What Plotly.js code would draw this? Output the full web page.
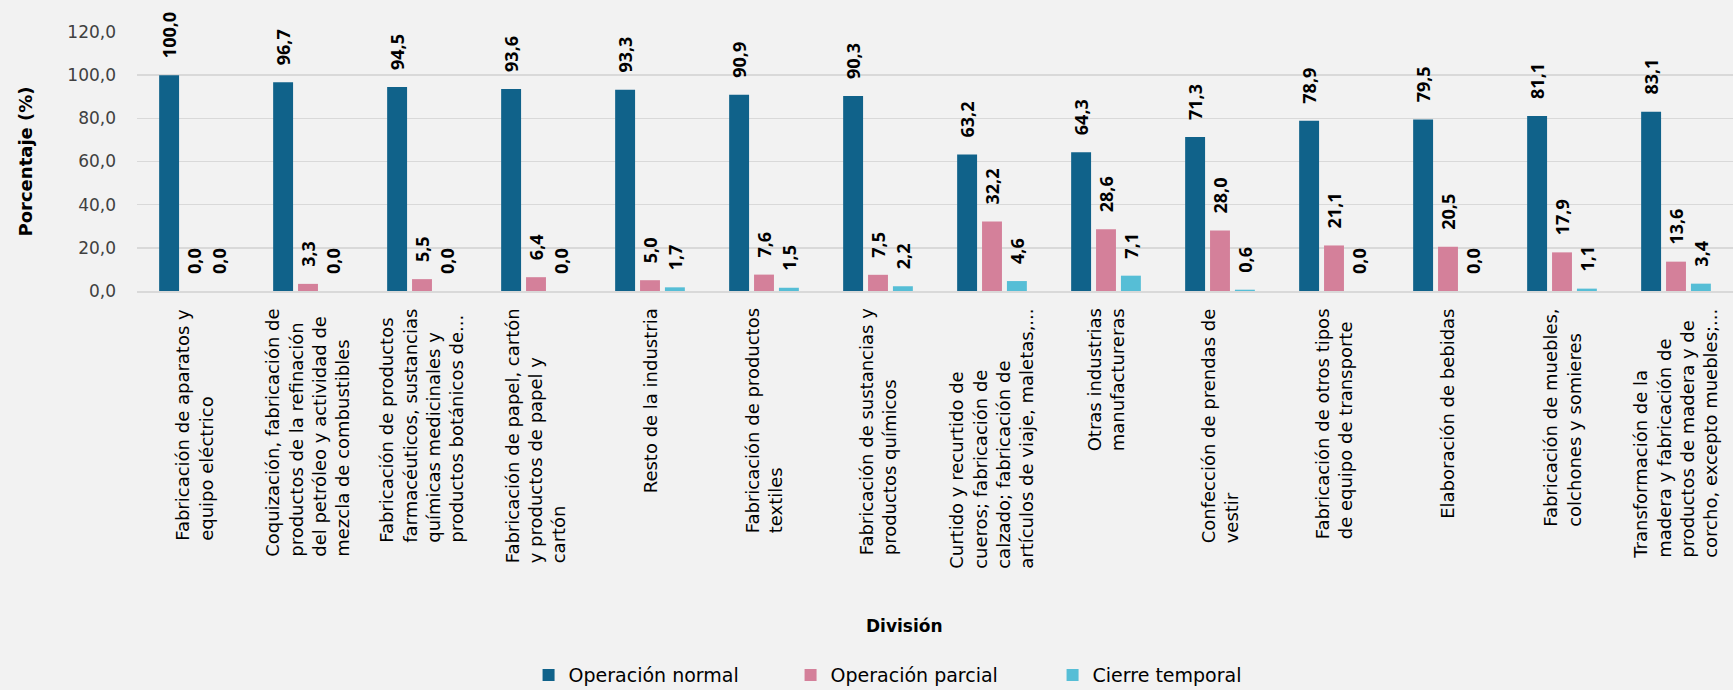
<!DOCTYPE html>
<html><head><meta charset="utf-8">
<script src="https://cdn.plot.ly/plotly-3.0.1.min.js"></script>
<style>html,body{margin:0;padding:0;background:#F2F2F2;}#chart{width:1733px;height:690px;}</style>
</head><body><div id="chart"></div>
<script>
const categories = [
  'Fabricación de aparatos y equipo eléctrico',
  'Coquización, fabricación de productos de la refinación del petróleo y actividad de mezcla de combustibles',
  'Fabricación de productos farmacéuticos, sustancias químicas medicinales y productos botánicos de uso farmacéutico',
  'Fabricación de papel, cartón y productos de papel y cartón',
  'Resto de la industria',
  'Fabricación de productos textiles',
  'Fabricación de sustancias y productos químicos',
  'Curtido y recurtido de cueros; fabricación de calzado; fabricación de artículos de viaje, maletas, bolsos de mano',
  'Otras industrias manufactureras',
  'Confección de prendas de vestir',
  'Fabricación de otros tipos de equipo de transporte',
  'Elaboración de bebidas',
  'Fabricación de muebles, colchones y somieres',
  'Transformación de la madera y fabricación de productos de madera y de corcho, excepto muebles; cestería'
];
const tickLabels = [
  'Fabricación de aparatos y<br>equipo eléctrico',
  'Coquización, fabricación de<br>productos de la refinación<br>del petróleo y actividad de<br>mezcla de combustibles',
  'Fabricación de productos<br>farmacéuticos, sustancias<br>químicas medicinales y<br>productos botánicos de...',
  'Fabricación de papel, cartón<br>y productos de papel y<br>cartón',
  'Resto de la industria',
  'Fabricación de productos<br>textiles',
  'Fabricación de sustancias y<br>productos químicos',
  'Curtido y recurtido de<br>cueros; fabricación de<br>calzado; fabricación de<br>artículos de viaje, maletas,...',
  'Otras industrias<br>manufactureras',
  'Confección de prendas de<br>vestir',
  'Fabricación de otros tipos<br>de equipo de transporte',
  'Elaboración de bebidas',
  'Fabricación de muebles,<br>colchones y somieres',
  'Transformación de la<br>madera y fabricación de<br>productos de madera y de<br>corcho, excepto muebles;...'
];
const seriesNames = ['Operación normal', 'Operación parcial', 'Cierre temporal'];
const operacionNormal  = [100.0, 96.7, 94.5, 93.6, 93.3, 90.9, 90.3, 63.2, 64.3, 71.3, 78.9, 79.5, 81.1, 83.1];
const operacionParcial = [0.0, 3.3, 5.5, 6.4, 5.0, 7.6, 7.5, 32.2, 28.6, 28.0, 21.1, 20.5, 17.9, 13.6];
const cierreTemporal   = [0.0, 0.0, 0.0, 0.0, 1.7, 1.5, 2.2, 4.6, 7.1, 0.6, 0.0, 0.0, 1.1, 3.4];
const colors = ['#10628A', '#D4809A', '#56BED6'];
const yTitle = 'Porcentaje (%)';
const xTitle = 'División';

const FONT = 'DejaVu Sans, sans-serif';
const NUMFONT = 'Open Sans, sans-serif';
function fmt(v) { return '\u00A0\u00A0\u00A0' + v.toFixed(1).replace('.', ','); }

const seriesValues = [operacionNormal, operacionParcial, cierreTemporal];
const traces = seriesValues.map((vals, i) => ({
  type: 'bar',
  name: seriesNames[i],
  x: categories,
  y: vals,
  marker: { color: colors[i] },
  text: vals.map(fmt),
  textposition: 'outside',
  textangle: -90,
  constraintext: 'none',
  cliponaxis: false,
  textfont: { family: NUMFONT, size: 18, color: '#000000', weight: 'bold' },
  hoverinfo: 'skip'
}));

const annotations = categories.map((c, i) => ({
  xref: 'x', yref: 'paper',
  x: c, y: -0.061,
  xanchor: 'center', yanchor: 'top',
  text: tickLabels[i],
  textangle: -90,
  align: 'left',
  showarrow: false,
  font: { family: FONT, size: 18, color: '#000000' }
}));
annotations.push({
  xref: 'paper', yref: 'paper',
  x: 0.481, y: -1.293,
  xanchor: 'center', yanchor: 'middle',
  text: '<b>' + xTitle + '</b>',
  showarrow: false,
  font: { family: FONT, size: 17, color: '#000000' }
});

const layout = {
  width: 1733, height: 690,
  margin: { l: 137, r: 0, t: 32, b: 399 },
  paper_bgcolor: '#F2F2F2',
  plot_bgcolor: '#F2F2F2',
  barmode: 'group',
  bargap: 0.345,
  bargroupgap: 0.2,
  separators: ',.',
  showlegend: true,
  legend: {
    orientation: 'h',
    xref: 'container', yref: 'container',
    x: 0.305, xanchor: 'left',
    y: 0.0217, yanchor: 'middle',
    entrywidth: 217,
    font: { family: FONT, size: 19, color: '#000000' },
    bgcolor: 'rgba(0,0,0,0)'
  },
  xaxis: {
    type: 'category',
    showticklabels: false,
    showgrid: false,
    showline: true,
    linecolor: '#D9D9D9',
    linewidth: 2,
    ticks: ''
  },
  yaxis: {
    range: [0, 120],
    dtick: 20,
    tickformat: '.1f',
    showgrid: true,
    gridcolor: '#D9D9D9',
    gridwidth: 1.5,
    zeroline: false,
    ticks: '',
    ticklabelstandoff: 20,
    tickfont: { family: FONT, size: 17, color: '#404040' },
    title: { text: '<b>' + yTitle + '</b>', standoff: 30, font: { family: FONT, size: 18, color: '#000000' } }
  },
  annotations: annotations
};

Plotly.newPlot('chart', traces, layout, { displayModeBar: false, staticPlot: true });
</script>
</body></html>
